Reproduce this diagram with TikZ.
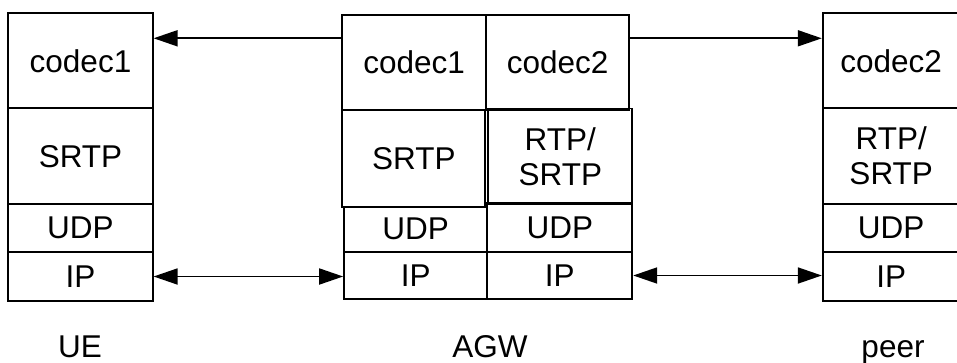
\documentclass[tikz,border=0pt]{standalone}
\usepackage{fontspec}
\setmainfont{Liberation Sans}
\usetikzlibrary{arrows.meta,calc}
\begin{document}
\begin{tikzpicture}[x=1pt,y=-1pt,
  cell/.style={draw, line width=1.8pt, inner sep=0pt, align=center,
    font=\fontsize{31.5}{35}\selectfont},
  lbl/.style={anchor=base, inner sep=0pt, font=\fontsize{31.5}{35}\selectfont},
  arr/.style={line width=1.8pt, -{Triangle[length=24pt,width=16pt]}},
  darr/.style={line width=1.8pt, {Triangle[length=24pt,width=16pt]}-{Triangle[length=24pt,width=16pt]}}]
\useasboundingbox (0,0) rectangle (957,363);
\clip (0,0) rectangle (957,363);

% UE protocol stack
\node[cell, minimum width=144.4pt, minimum height=95pt]   (uec1)  at (80.5,60.8)  {codec1};
\node[cell, minimum width=144.4pt, minimum height=95.7pt] (uesrtp) at (80.5,156.2) {SRTP};
\node[cell, minimum width=144.4pt, minimum height=48.3pt] (ueudp) at (80.5,228.2) {UDP};
\node[cell, minimum width=144.4pt, minimum height=48.4pt] (ueip)  at (80.5,276.5) {IP};

% AGW protocol stack, two halves
\node[cell, minimum width=144.3pt, minimum height=95pt]   (agwc1)  at (414.1,62.5)  {codec1};
\node[cell, minimum width=143.3pt, minimum height=95pt]   (agwc2)  at (557.7,62.5)  {codec2};
\node[cell, minimum width=143pt,   minimum height=96.7pt] (agwsrtp) at (413.8,158.4) {SRTP};
\node[cell, minimum width=144pt,   minimum height=95.7pt] (agwrtp) at (560.3,156.3) {RTP/\\SRTP};
\node[cell, minimum width=143.3pt, minimum height=45pt]   (agwudpl) at (415.7,229.2) {UDP};
\node[cell, minimum width=145pt,   minimum height=48.4pt] (agwudpr) at (559.8,227.5) {UDP};
\node[cell, minimum width=143.3pt, minimum height=47.6pt] (agwipl) at (415.7,275.5) {IP};
\node[cell, minimum width=145pt,   minimum height=47.6pt] (agwipr) at (559.8,275.5) {IP};

% peer protocol stack
\node[cell, minimum width=137pt, minimum height=95pt]   (pc2)   at (891.2,60.8)  {codec2};
\node[cell, minimum width=137pt, minimum height=95.7pt] (prtp)  at (891.2,156.2) {RTP/\\SRTP};
\node[cell, minimum width=137pt, minimum height=48.3pt] (pudp)  at (891.2,228.2) {UDP};
\node[cell, minimum width=137pt, minimum height=48.4pt] (pip)   at (891.2,276.5) {IP};

% media paths
\coordinate (c1src) at ($(agwc1.north west)!0.25!(agwc1.south west)$);
\coordinate (c2src) at ($(agwc2.north east)!0.25!(agwc2.south east)$);
\draw[arr] (c1src) -- (c1src -| uec1.east);
\draw[arr] (c2src) -- (c2src -| pc2.west);
\draw[darr] (ueip.east) -- (ueip.east -| agwipl.west);
\draw[darr] (agwipr.east) -- (agwipr.east -| pip.west);

% entity names
\node[lbl] (ue)   at (80,357)  {UE};
\node[lbl] (agw)  at (490,357) {AGW};
\node[lbl] (peer) at (893,357) {peer};
\end{tikzpicture}
\end{document}
